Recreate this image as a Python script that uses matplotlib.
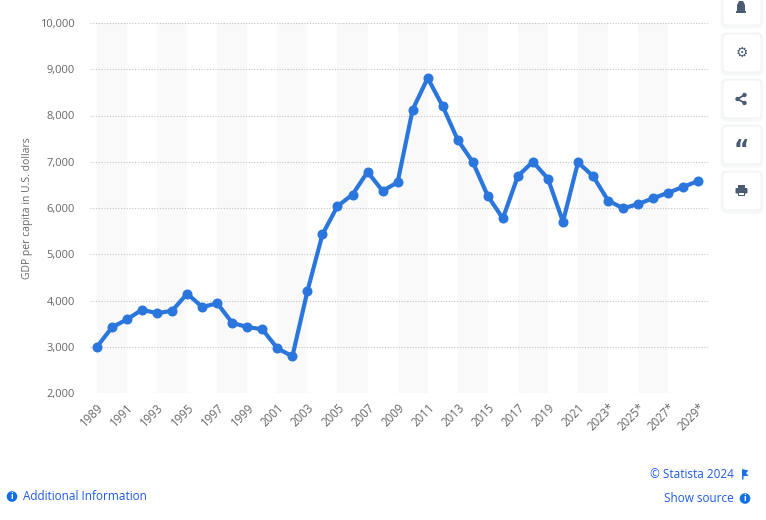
import matplotlib
matplotlib.use("Agg")
import matplotlib.pyplot as plt
from matplotlib.patches import FancyBboxPatch, Circle, Rectangle, Polygon

plt.rcParams["font.family"] = ["Open Sans", "DejaVu Sans"]

years = list(range(1989, 2030))
gdp_per_capita = [3000, 3420, 3593, 3802, 3722, 3780, 4148, 3859, 3939, 3514,
                  3427, 3377, 2966, 2793, 4205, 5431, 6040, 6290, 6780, 6370,
                  6556, 8127, 8810, 8200, 7471, 6995, 6260, 5774, 6690, 7000,
                  6634, 5704, 6986, 6690, 6162, 5992, 6085, 6211, 6330, 6457,
                  6584]
tick_years = list(range(1989, 2030, 2))
tick_labels = [str(y) + ("*" if y >= 2023 else "") for y in tick_years]
y_ticks = [2000, 3000, 4000, 5000, 6000, 7000, 8000, 9000, 10000]
band_centers = list(range(1990, 2029, 4))

W, H = 766, 520
fig = plt.figure(figsize=(W / 100, H / 100), dpi=100)
fig.patch.set_facecolor("white")

ax = fig.add_axes([90 / W, 1 - 393 / H, 618 / W, 370 / H])
ax.set_xlim(1988.534, 2029.65)
ax.set_ylim(2000, 10000)

for c in band_centers:
    ax.axvspan(c - 1, c + 1, color="#f9f9f9", zorder=0, lw=0)

for v in y_ticks:
    ax.axhline(v, color="#c4c4c4", lw=0.8, ls=(0, (1, 1.5)), zorder=1)

ax.plot(years, gdp_per_capita, color="#2a76dd", lw=3.0, marker="o",
        markersize=6.2, zorder=3, clip_on=False, solid_joinstyle="round")

for s in ax.spines.values():
    s.set_visible(False)

ax.set_yticks(y_ticks)
ax.set_yticklabels([f"{v:,}" for v in y_ticks])
ax.set_xticks(tick_years)
ax.set_xticklabels(tick_labels, rotation=45, ha="right", va="top",
                   rotation_mode="anchor")
ax.tick_params(axis="y", length=0, pad=11, labelsize=8, labelcolor="#666666")
ax.tick_params(axis="x", length=0, pad=6, labelsize=8.3, labelcolor="#666666")
ax.set_ylabel("GDP per capita in U.S. dollars", fontsize=7.5, color="#666666")
ax.yaxis.set_label_coords(-57 / 618, 0.5)

# overlay for page decorations in pixel coordinates
ov = fig.add_axes([0, 0, 1, 1], zorder=10)
ov.set_xlim(0, W)
ov.set_ylim(H, 0)
ov.axis("off")
ov.patch.set_alpha(0)

icon = "#4a5b73"
box_tops = [-13, 34, 80, 126, 172]
for t in box_tops:
    ov.add_patch(FancyBboxPatch((720.5, t - 1.5), 43, 43,
                                boxstyle="round,pad=0,rounding_size=6",
                                fc="#f1f2f5", ec="none", alpha=0.6))
    ov.add_patch(FancyBboxPatch((723, t), 38, 38,
                                boxstyle="round,pad=0,rounding_size=4",
                                fc="white", ec="#eef0f3", lw=0.6))
# bell
ov.add_patch(Polygon([(737, 12), (737, 5), (739, 1), (743, 1), (745, 5),
                      (745, 12)], closed=True, fc=icon, ec="none"))
ov.add_patch(Rectangle((736, 11), 10, 2, fc=icon, ec="none"))
# gear
ov.text(741.5, 53, "\u2699", fontsize=10, color=icon, ha="center",
        va="center", family="DejaVu Sans", fontweight="bold")
# share
pts = [(737.5, 99), (744.5, 95), (744.5, 103)]
ov.plot([pts[1][0], pts[0][0], pts[2][0]], [pts[1][1], pts[0][1], pts[2][1]],
        color=icon, lw=1.3)
for p in pts:
    ov.add_patch(Circle(p, 2.2, fc=icon, ec="none"))
# quote
ov.text(741.5, 150, "\u201c", fontsize=17, color=icon, ha="center",
        va="center", fontweight="bold", family="DejaVu Sans")
# printer
ov.add_patch(Rectangle((738, 185), 7, 3, fc=icon, ec="none"))
ov.add_patch(FancyBboxPatch((735.5, 188), 12, 5.5,
                            boxstyle="round,pad=0,rounding_size=1",
                            fc=icon, ec="none"))
ov.add_patch(Rectangle((738, 192), 7, 4, fc=icon, ec="none"))
ov.add_patch(Rectangle((739, 192.5), 5, 2.5, fc="white", ec="none"))

link = "#1f5ae6"
ov.text(734, 474, "\u00a9 Statista 2024", fontsize=8.5, color=link,
        ha="right", va="center")
ov.add_patch(Polygon([(742, 469), (748.5, 470.5), (746, 473), (748.5, 476),
                      (743.5, 476), (743.5, 479.5), (742, 479.5)],
                     closed=True, fc="#1b6fe8", ec="none"))
ov.text(734, 498.5, "Show source", fontsize=8.5, color=link, ha="right",
        va="center")
for cx, cy in [(745, 498.5), (12, 496.5)]:
    ov.add_patch(Circle((cx, cy), 5.3, fc="#0f6fe3", ec="none"))
    ov.text(cx, cy + 0.3, "i", fontsize=6.5, color="white", ha="center",
            va="center", fontweight="bold")
ov.text(23, 496.5, "Additional Information", fontsize=8.5, color=link,
        ha="left", va="center")

fig.savefig("out.png", dpi=100, facecolor="white")
